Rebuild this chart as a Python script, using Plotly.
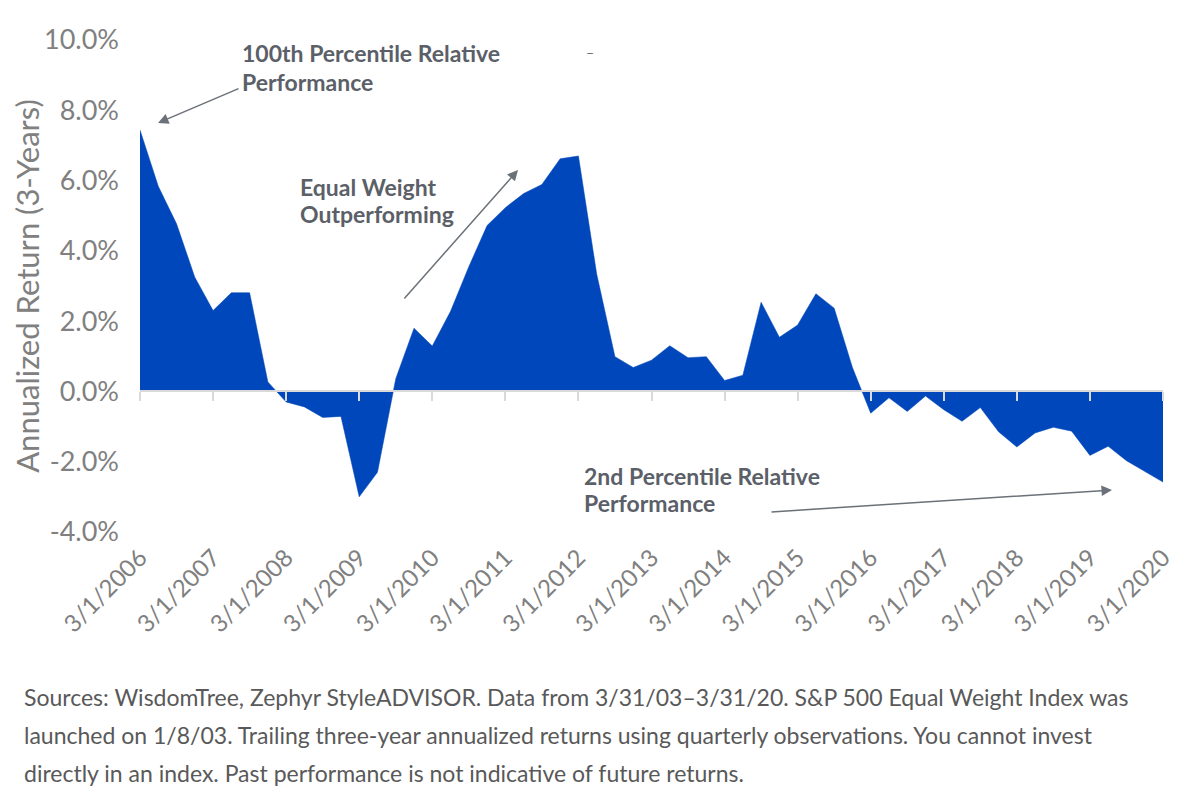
import plotly.graph_objects as go

# quarterly observations, 3/1/2006 .. 3/1/2020
quarters = [f"{m}/1/{y}" for y in range(2006, 2021) for m in (3, 6, 9, 12)][:57]

# trailing 3-year annualized return difference (%)
excess_return = [
    7.44, 5.84, 4.77, 3.25, 2.30, 2.81, 2.81, 0.27,
    -0.30, -0.44, -0.74, -0.71, -3.00, -2.30, 0.36, 1.80,
    1.29, 2.28, 3.55, 4.72, 5.23, 5.63, 5.89, 6.62,
    6.70, 3.34, 0.99, 0.68, 0.89, 1.30, 0.96, 0.99,
    0.31, 0.46, 2.54, 1.54, 1.89, 2.78, 2.37, 0.68,
    -0.62, -0.18, -0.57, -0.13, -0.52, -0.85, -0.46, -1.15,
    -1.58, -1.18, -1.02, -1.13, -1.82, -1.56, -1.97, -2.28,
    -2.58,
]

x_ticks = [f"3/1/{y}" for y in range(2006, 2021)]
y_ticks = [-4, -2, 0, 2, 4, 6, 8, 10]
y_labels = ["-4.0%", "-2.0%", "0.0%", "2.0%", "4.0%", "6.0%", "8.0%", "10.0%"]

footer = [
    "Sources: WisdomTree, Zephyr StyleADVISOR. Data from 3/31/03\u20133/31/20. S&P 500 Equal Weight Index was",
    "launched on 1/8/03. Trailing three-year annualized returns using quarterly observations. You cannot invest",
    "directly in an index. Past performance is not indicative of future returns.",
]

# the page puts the figure 8px in from the top-left corner
OFF = 8
W, H = 1184, 790
L, R, T, B = 132, 29, 32, 266
PW, PH = W - L - R, H - T - B
BLUE = "#0047bb"
GREY = "#808080"
DARK = "#5b6068"


def px(x, y):
    # pixel position in the page -> paper coordinates
    return (x - OFF - L) / PW, (H - B - (y - OFF)) / PH


fig = go.Figure()

fig.add_trace(go.Scatter(
    x=quarters,
    y=excess_return,
    mode="lines",
    fill="tozeroy",
    fillcolor=BLUE,
    line=dict(color=BLUE, width=0.5),
    hoverinfo="x+y",
    showlegend=False,
))

# carrier for the zero line axis with its ticks
fig.add_trace(go.Scatter(
    x=quarters,
    y=excess_return,
    xaxis="x2",
    mode="lines",
    line=dict(width=0),
    hoverinfo="skip",
    showlegend=False,
))

annotations = []

# annotation texts, line by line
labels = [
    (240, 53, "100th Percentile Relative"),
    (240, 82, "Performance"),
    (298, 187, "Equal Weight"),
    (298, 214, "Outperforming"),
    (582, 476, "2nd Percentile Relative"),
    (582, 503, "Performance"),
]
for lx, ly, txt in labels:
    xp, yp = px(lx, ly)
    annotations.append(dict(
        x=xp, y=yp, xref="paper", yref="paper", text=f"<b>{txt}</b>",
        showarrow=False, xanchor="left", yanchor="middle",
        font=dict(family="Lato", size=23, color=DARK),
    ))

# arrows: head position and tail offset in pixels
arrows = [
    (158, 123, 82, -35),
    (518, 170, -115, 130),
    (1112, 490, -342, 22),
]
for hx, hy, ax, ay in arrows:
    xp, yp = px(hx, hy)
    annotations.append(dict(
        x=xp, y=yp, xref="paper", yref="paper", text="",
        showarrow=True, ax=ax, ay=ay, arrowhead=2, arrowsize=1.4,
        arrowwidth=1.5, arrowcolor="#6b7178", standoff=0,
    ))

xp, yp = px(590, 52)
annotations.append(dict(
    x=xp, y=yp, xref="paper", yref="paper", text="\u2013", showarrow=False,
    yanchor="middle", font=dict(family="Lato", size=14, color="#666666"),
))

for i, line in enumerate(footer):
    xp, yp = px(22, 697 + i * 38)
    annotations.append(dict(
        x=xp, y=yp, xref="paper", yref="paper", text=line,
        showarrow=False, xanchor="left", yanchor="middle",
        font=dict(family="Lato", size=23, color="#595959"),
    ))

fig.update_layout(
    width=W,
    height=H,
    margin=dict(l=L, r=R, t=T, b=B),
    paper_bgcolor="white",
    plot_bgcolor="white",
    showlegend=False,
    xaxis=dict(
        type="category",
        categoryorder="array",
        categoryarray=quarters,
        range=[0, 56],
        tickvals=x_ticks,
        ticktext=x_ticks,
        tickangle=-45,
        ticks="",
        ticklabelstandoff=6,
        showgrid=False,
        zeroline=False,
        showline=False,
        tickfont=dict(family="Lato", size=24, color=GREY),
    ),
    xaxis2=dict(
        type="category",
        overlaying="x",
        matches="x",
        anchor="free",
        position=4 / 14,
        tickvals=x_ticks,
        showticklabels=False,
        ticks="outside",
        ticklen=9,
        tickwidth=2,
        tickcolor="#d9d9d9",
        showline=True,
        linecolor="#d9d9d9",
        linewidth=2,
        showgrid=False,
        zeroline=False,
    ),
    yaxis=dict(
        range=[-4, 10],
        tickvals=y_ticks,
        ticktext=y_labels,
        showgrid=False,
        zeroline=False,
        showline=False,
        ticks="",
        ticklabelstandoff=20,
        tickfont=dict(family="Lato", size=27, color=GREY),
        title=dict(
            text="Annualized Return (3-Years)",
            font=dict(family="Lato", size=31, color=GREY),
            standoff=2,
        ),
    ),
    annotations=annotations,
)

fig.write_html("out.html")
